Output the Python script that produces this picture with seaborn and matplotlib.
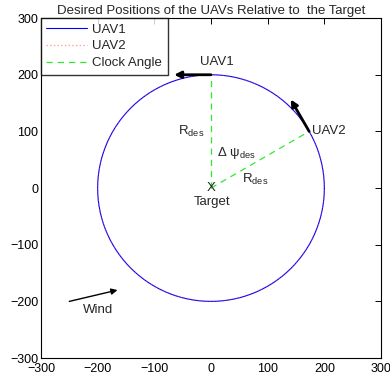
import numpy as np
import pandas as pd
import matplotlib
matplotlib.use("Agg")
import matplotlib.pyplot as plt
import seaborn as sns

# ---- data ----
R_des = 200
target = (0, 0)
uav_names = ["UAV1", "UAV2"]
uav_angles_deg = [90, 30]          # clock angle positions on the circle
arrow_len = 65                      # heading arrow length
wind_start = (-250, -200)
wind_end = (-165, -180)
x_ticks = [-300, -200, -100, 0, 100, 200, 300]
y_ticks = [-300, -200, -100, 0, 100, 200, 300]

sns.set_theme(style="white")
plt.rcParams['font.family'] = ['Liberation Sans', 'DejaVu Sans']
plt.rcParams['mathtext.fontset'] = 'custom'
plt.rcParams['mathtext.rm'] = 'Liberation Sans'
plt.rcParams['mathtext.it'] = 'Liberation Sans'

theta = np.linspace(0, 2 * np.pi, 361)
circle = pd.DataFrame({"x": R_des * np.cos(theta), "y": R_des * np.sin(theta)})

fig = plt.figure(figsize=(3.9, 3.85), dpi=100)
ax = fig.add_axes([0.105, 0.070, 0.872, 0.883])

sns.lineplot(data=circle, x="x", y="y", sort=False, estimator=None, ax=ax,
             color="#0000ff", lw=0.8, label="UAV1")
sns.lineplot(data=circle, x="x", y="y", sort=False, estimator=None, ax=ax,
             color="#ff6060", lw=0.8, ls=":", alpha=0.45, label="UAV2")

# clock angle lines
first = True
for a in uav_angles_deg:
    px, py = R_des * np.cos(np.radians(a)), R_des * np.sin(np.radians(a))
    seg = pd.DataFrame({"x": [target[0], px], "y": [target[1], py]})
    sns.lineplot(data=seg, x="x", y="y", sort=False, estimator=None, ax=ax,
                 color="#33e633", lw=0.9, ls=(0, (5, 4)),
                 label="Clock Angle" if first else None)
    first = False

# heading arrows (tangent, counter-clockwise)
for a in uav_angles_deg:
    r = np.radians(a)
    px, py = R_des * np.cos(r), R_des * np.sin(r)
    dx, dy = -np.sin(r) * arrow_len, np.cos(r) * arrow_len
    ax.annotate("", xy=(px + dx, py + dy), xytext=(px, py),
                arrowprops=dict(arrowstyle="-|>", color="black", lw=2,
                                mutation_scale=10, shrinkA=0, shrinkB=0))

ax.annotate("", xy=wind_end, xytext=wind_start,
            arrowprops=dict(arrowstyle="-|>", color="black", lw=1,
                            mutation_scale=9, shrinkA=0, shrinkB=0))

fs = 9.5
ax.text(10, 222, "UAV1", fontsize=fs, ha="center", va="center")
ax.text(178, 100, "UAV2", fontsize=fs, ha="left", va="center")
ax.text(-35, 100, r"R$_{\mathregular{des}}$", fontsize=fs, ha="center", va="center")
ax.text(10, 62, r"Δ ψ$_{\mathregular{des}}$", fontsize=fs, ha="left", va="center")
ax.text(78, 15, r"R$_{\mathregular{des}}$", fontsize=fs, ha="center", va="center")
ax.text(0, 0, "X", fontsize=fs, ha="center", va="center")
ax.text(2, -25, "Target", fontsize=fs, ha="center", va="center")
ax.text(-200, -215, "Wind", fontsize=fs, ha="center", va="center")

ax.set_xlim(-300, 300)
ax.set_ylim(-300, 300)
ax.set_xticks(x_ticks)
ax.set_yticks(y_ticks)
ax.set_xticklabels([str(t).replace("-", "−") for t in x_ticks])
ax.set_yticklabels([str(t).replace("-", "−") for t in y_ticks])
ax.set_xlabel("")
ax.set_ylabel("")
ax.tick_params(direction="in", length=4, width=0.7, labelsize=9, colors="black",
               top=True, right=True, pad=2)
ax.tick_params(axis="x", pad=3.5)
for s in ax.spines.values():
    s.set_color("black")
    s.set_linewidth(0.8)

ax.set_title("Desired Positions of the UAVs Relative to  the Target", fontsize=9.5, pad=3)

leg = ax.legend(loc="upper left", fontsize=9.5, frameon=True, fancybox=False,
                borderaxespad=0, handlelength=3.1, borderpad=0.4, labelspacing=0.35,
                handletextpad=0.4)
leg.get_frame().set_edgecolor("black")
leg.get_frame().set_linewidth(1.0)
handles = leg.get_lines()
handles[1].set_alpha(1)
handles[1].set_color("#ffa0a0")
handles[1].set_linewidth(1.0)

fig.savefig("out.png", dpi=100)
